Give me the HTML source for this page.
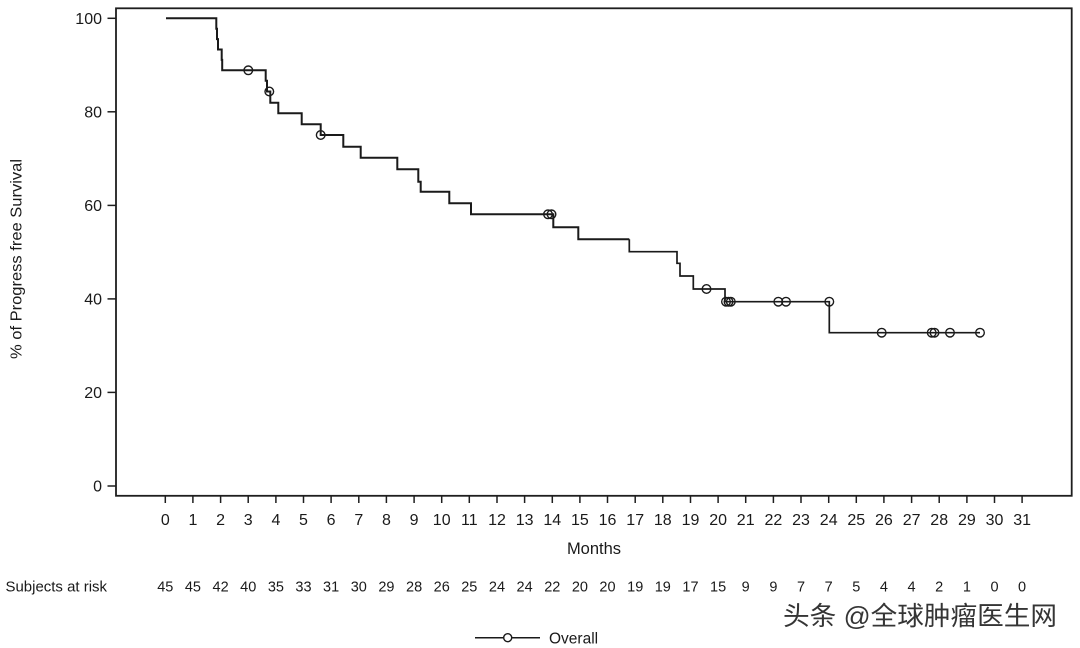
<!DOCTYPE html>
<html>
<head>
<meta charset="utf-8">
<style>
  html, body { margin: 0; padding: 0; background: #ffffff; }
  body { width: 1080px; height: 648px; overflow: hidden; }
  svg { display: block; }
  text { font-family: "Liberation Sans", Arial, sans-serif; fill: #1a1a1a; }
  .cjk { font-family: "Liberation Sans", "Noto Sans CJK SC", "WenQuanYi Zen Hei", sans-serif; }
</style>
</head>
<body>
<svg width="1080" height="648" viewBox="0 0 1080 648" xmlns="http://www.w3.org/2000/svg">
  <rect x="0" y="0" width="1080" height="648" fill="#ffffff"/>

  <!-- plot frame -->
  <rect x="116" y="8.3" width="955.7" height="487.5" fill="none" stroke="#1e1e1e" stroke-width="1.8"/>

  <!-- Y ticks -->
  <g stroke="#1e1e1e" stroke-width="1.5">
    <line x1="107.5" y1="18.3" x2="116" y2="18.3"/>
    <line x1="107.5" y1="111.8" x2="116" y2="111.8"/>
    <line x1="107.5" y1="205.4" x2="116" y2="205.4"/>
    <line x1="107.5" y1="298.9" x2="116" y2="298.9"/>
    <line x1="107.5" y1="392.4" x2="116" y2="392.4"/>
    <line x1="107.5" y1="486" x2="116" y2="486"/>
  </g>
  <g font-size="16" text-anchor="end">
    <text x="102" y="24">100</text>
    <text x="102" y="117.5">80</text>
    <text x="102" y="211.1">60</text>
    <text x="102" y="304.6">40</text>
    <text x="102" y="398.1">20</text>
    <text x="102" y="491.7">0</text>
  </g>

  <!-- Y title -->
  <text x="0" y="0" font-size="16" text-anchor="middle" transform="translate(21.5,259) rotate(-90)" textLength="200" lengthAdjust="spacingAndGlyphs">% of Progress free Survival</text>

  <!-- X ticks -->
  <g stroke="#1e1e1e" stroke-width="1.5">
    <line x1="165.3" y1="496" x2="165.3" y2="503"/>
    <line x1="192.9" y1="496" x2="192.9" y2="503"/>
    <line x1="220.6" y1="496" x2="220.6" y2="503"/>
    <line x1="248.2" y1="496" x2="248.2" y2="503"/>
    <line x1="275.9" y1="496" x2="275.9" y2="503"/>
    <line x1="303.5" y1="496" x2="303.5" y2="503"/>
    <line x1="331.1" y1="496" x2="331.1" y2="503"/>
    <line x1="358.8" y1="496" x2="358.8" y2="503"/>
    <line x1="386.4" y1="496" x2="386.4" y2="503"/>
    <line x1="414.1" y1="496" x2="414.1" y2="503"/>
    <line x1="441.7" y1="496" x2="441.7" y2="503"/>
    <line x1="469.3" y1="496" x2="469.3" y2="503"/>
    <line x1="497.0" y1="496" x2="497.0" y2="503"/>
    <line x1="524.6" y1="496" x2="524.6" y2="503"/>
    <line x1="552.3" y1="496" x2="552.3" y2="503"/>
    <line x1="579.9" y1="496" x2="579.9" y2="503"/>
    <line x1="607.5" y1="496" x2="607.5" y2="503"/>
    <line x1="635.2" y1="496" x2="635.2" y2="503"/>
    <line x1="662.8" y1="496" x2="662.8" y2="503"/>
    <line x1="690.5" y1="496" x2="690.5" y2="503"/>
    <line x1="718.1" y1="496" x2="718.1" y2="503"/>
    <line x1="745.7" y1="496" x2="745.7" y2="503"/>
    <line x1="773.4" y1="496" x2="773.4" y2="503"/>
    <line x1="801.0" y1="496" x2="801.0" y2="503"/>
    <line x1="828.7" y1="496" x2="828.7" y2="503"/>
    <line x1="856.3" y1="496" x2="856.3" y2="503"/>
    <line x1="883.9" y1="496" x2="883.9" y2="503"/>
    <line x1="911.6" y1="496" x2="911.6" y2="503"/>
    <line x1="939.2" y1="496" x2="939.2" y2="503"/>
    <line x1="966.9" y1="496" x2="966.9" y2="503"/>
    <line x1="994.5" y1="496" x2="994.5" y2="503"/>
    <line x1="1022.1" y1="496" x2="1022.1" y2="503"/>
  </g>
  <g font-size="16" text-anchor="middle">
    <text x="165.3" y="525">0</text>
    <text x="192.9" y="525">1</text>
    <text x="220.6" y="525">2</text>
    <text x="248.2" y="525">3</text>
    <text x="275.9" y="525">4</text>
    <text x="303.5" y="525">5</text>
    <text x="331.1" y="525">6</text>
    <text x="358.8" y="525">7</text>
    <text x="386.4" y="525">8</text>
    <text x="414.1" y="525">9</text>
    <text x="441.7" y="525">10</text>
    <text x="469.3" y="525">11</text>
    <text x="497.0" y="525">12</text>
    <text x="524.6" y="525">13</text>
    <text x="552.3" y="525">14</text>
    <text x="579.9" y="525">15</text>
    <text x="607.5" y="525">16</text>
    <text x="635.2" y="525">17</text>
    <text x="662.8" y="525">18</text>
    <text x="690.5" y="525">19</text>
    <text x="718.1" y="525">20</text>
    <text x="745.7" y="525">21</text>
    <text x="773.4" y="525">22</text>
    <text x="801.0" y="525">23</text>
    <text x="828.7" y="525">24</text>
    <text x="856.3" y="525">25</text>
    <text x="883.9" y="525">26</text>
    <text x="911.6" y="525">27</text>
    <text x="939.2" y="525">28</text>
    <text x="966.9" y="525">29</text>
    <text x="994.5" y="525">30</text>
    <text x="1022.1" y="525">31</text>
  </g>

  <!-- X title -->
  <text x="594" y="554" font-size="16.5" text-anchor="middle">Months</text>

  <!-- Subjects at risk -->
  <text x="5.5" y="591.5" font-size="15" textLength="101.5" lengthAdjust="spacingAndGlyphs">Subjects at risk</text>
  <g font-size="14.5" text-anchor="middle">
    <text x="165.3" y="591.5">45</text>
    <text x="192.9" y="591.5">45</text>
    <text x="220.6" y="591.5">42</text>
    <text x="248.2" y="591.5">40</text>
    <text x="275.9" y="591.5">35</text>
    <text x="303.5" y="591.5">33</text>
    <text x="331.1" y="591.5">31</text>
    <text x="358.8" y="591.5">30</text>
    <text x="386.4" y="591.5">29</text>
    <text x="414.1" y="591.5">28</text>
    <text x="441.7" y="591.5">26</text>
    <text x="469.3" y="591.5">25</text>
    <text x="497.0" y="591.5">24</text>
    <text x="524.6" y="591.5">24</text>
    <text x="552.3" y="591.5">22</text>
    <text x="579.9" y="591.5">20</text>
    <text x="607.5" y="591.5">20</text>
    <text x="635.2" y="591.5">19</text>
    <text x="662.8" y="591.5">19</text>
    <text x="690.5" y="591.5">17</text>
    <text x="718.1" y="591.5">15</text>
    <text x="745.7" y="591.5">9</text>
    <text x="773.4" y="591.5">9</text>
    <text x="801.0" y="591.5">7</text>
    <text x="828.7" y="591.5">7</text>
    <text x="856.3" y="591.5">5</text>
    <text x="883.9" y="591.5">4</text>
    <text x="911.6" y="591.5">4</text>
    <text x="939.2" y="591.5">2</text>
    <text x="966.9" y="591.5">1</text>
    <text x="994.5" y="591.5">0</text>
    <text x="1022.1" y="591.5">0</text>
  </g>

  <!-- KM curve -->
  <path d="M166,18.3 H216.3 V28.7 H217 V39.1 H218 V49.5 H221.7 V59.9 H222.2 V70.3 H265.7 V80.7 H267 V91.5 H270.3 V102.7 H278.3 V113.3 H301.7 V124.3 H320.7 V135 H343.3 V146.7 H360.7 V157.7 H397.3 V169.3 H418.3 V181.7 H420.7 V191.7 H449.3 V203.3 H471 V214.3 H553.3 V227.3 H578.3 V239.3 H629.3"
        fill="none" stroke="#1a1a1a" stroke-width="2" stroke-linejoin="miter"/>
  <path d="M629.3,239.3 V251.7 H677 V263.3 H680 V276 H693.3 V289 H725 V301.7 H829.3 V332.7 H980"
        fill="none" stroke="#1a1a1a" stroke-width="1.7" stroke-linejoin="miter"/>

  <!-- censor marks -->
  <g fill="none" stroke="#1a1a1a" stroke-width="1.4">
    <circle cx="248.3" cy="70.3" r="4.3"/>
    <circle cx="269.3" cy="91.5" r="4.3"/>
    <circle cx="320.7" cy="135" r="4.3"/>
    <circle cx="548" cy="214.3" r="4.3"/>
    <circle cx="551.5" cy="214.3" r="4.3"/>
    <circle cx="706.5" cy="289" r="4.3"/>
    <circle cx="726" cy="301.7" r="4.3"/>
    <circle cx="728.5" cy="301.7" r="4.3"/>
    <circle cx="730.8" cy="301.7" r="4.3"/>
    <circle cx="778.3" cy="301.7" r="4.3"/>
    <circle cx="786" cy="301.7" r="4.3"/>
    <circle cx="829.3" cy="301.7" r="4.3"/>
    <circle cx="881.7" cy="332.7" r="4.3"/>
    <circle cx="931.7" cy="332.7" r="4.3"/>
    <circle cx="934.5" cy="332.7" r="4.3"/>
    <circle cx="950" cy="332.7" r="4.3"/>
    <circle cx="980" cy="332.7" r="4.3"/>
  </g>

  <!-- Legend -->
  <line x1="475" y1="637.7" x2="540" y2="637.7" stroke="#1a1a1a" stroke-width="1.5"/>
  <circle cx="507.7" cy="637.7" r="4" fill="#ffffff" stroke="#1a1a1a" stroke-width="1.4"/>
  <text x="549" y="643.3" font-size="15.5">Overall</text>

  <!-- Watermark -->
  <text class="cjk" x="783" y="625" font-size="26" fill="#333333" textLength="274" lengthAdjust="spacingAndGlyphs" style="fill:#353535">头条 @全球肿瘤医生网</text>
</svg>
</body>
</html>
